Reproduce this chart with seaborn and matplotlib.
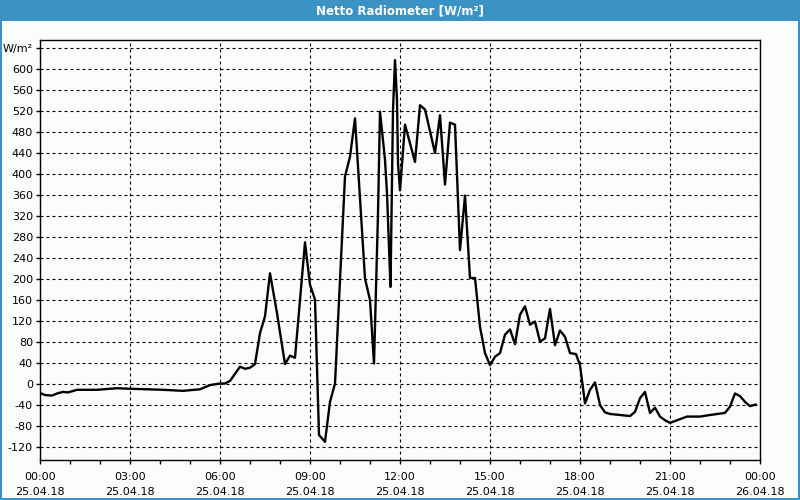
import matplotlib
matplotlib.use("Agg")
import matplotlib.pyplot as plt
from matplotlib.patches import Rectangle
from matplotlib.ticker import MultipleLocator
import seaborn as sns
import pandas as pd

# ---- data ----
minutes = [0, 10, 24, 34, 46, 56, 74, 114, 154, 180, 214, 246, 286, 320, 340, 360, 370, 380,
           386, 400, 410, 420, 430, 440, 450, 460, 474, 490, 500, 510, 530, 540, 550, 558,
           570, 580, 590, 610, 620, 630, 650, 660, 668, 676, 680, 690, 694, 698, 701, 706,
           710, 714, 716, 720, 730, 750, 760, 770, 790, 800, 810, 820, 830, 840, 850, 860,
           870, 880, 890, 900, 910, 920, 930, 940, 950, 960, 970, 980, 990, 1000, 1010, 1020,
           1030, 1040, 1050, 1060, 1072, 1080, 1090, 1100, 1110, 1120, 1130, 1140, 1160, 1180,
           1190, 1200, 1210, 1220, 1230, 1240, 1250, 1260, 1274, 1294, 1320, 1340, 1370, 1380,
           1390, 1400, 1410, 1420, 1432]
values = [-18, -22, -23, -19, -16, -17, -12, -12, -9, -10, -11, -12, -14, -11, -3, 0, 0, 5,
          13, 32, 28, 30, 37, 96, 128, 210, 134, 37, 53, 49, 269, 188, 160, -98,
          -111, -35, 0, 394, 432, 505, 200, 159, 38, 324, 518, 426, 362, 260, 184, 521,
          616, 540, 419, 368, 493, 422, 530, 522, 439, 511, 379, 497, 493, 254, 358, 201,
          201, 108, 58, 35, 51, 58, 93, 103, 75, 131, 147, 112, 118, 80, 86, 142,
          73, 101, 89, 58, 56, 35, -38, -12, 2, -41, -55, -58, -60, -62,
          -54, -28, -16, -56, -46, -63, -70, -75, -70, -63, -63, -60, -56, -44,
          -19, -24, -35, -43, -40]

x_tick_pos = [0, 180, 360, 540, 720, 900, 1080, 1260, 1440]
x_tick_labels = ["00:00\n25.04.18", "03:00\n25.04.18", "06:00\n25.04.18", "09:00\n25.04.18",
                 "12:00\n25.04.18", "15:00\n25.04.18", "18:00\n25.04.18", "21:00\n25.04.18",
                 "00:00\n26.04.18"]
y_tick_pos = list(range(-120, 641, 40))
y_tick_labels = [str(v) for v in y_tick_pos[:-1]] + ["W/m²"]
title = "Netto Radiometer [W/m²]"

df = pd.DataFrame({"minute": minutes, "value": values})

sns.set_style("white")
plt.rcParams["font.family"] = ["DejaVu Sans"]

blue = "#3b93c5"
fig = plt.figure(figsize=(8, 5), dpi=100, facecolor=blue)
bg = Rectangle((2 / 800, 2 / 500), 796 / 800, 477 / 500,
               transform=fig.transFigure, facecolor="#fbfdfb",
               edgecolor="none", zorder=-10)
fig.add_artist(bg)
fig.text(0.5, 1 - 10.5 / 500, title, ha="center", va="center", color="white",
         fontsize=8.5, fontweight="bold")

ax = fig.add_axes([40 / 800, 40 / 500, 720 / 800, 420 / 500])
ax.set_zorder(5)
ax.set_facecolor("#fbfdfb")
sns.lineplot(data=df, x="minute", y="value", ax=ax, color="black", linewidth=1.7)

ax.set_xlim(0, 1440)
ax.set_ylim(-145.7, 654.3)
ax.set_xticks(x_tick_pos)
ax.set_xticklabels(x_tick_labels)
ax.xaxis.set_minor_locator(MultipleLocator(60))
ax.set_yticks(y_tick_pos)
ax.set_yticklabels(y_tick_labels)
ax.set_xlabel("")
ax.set_ylabel("")

ax.grid(True, which="major", color="black", linestyle=(0, (2.7, 2.7)), linewidth=0.8)
for sp in ax.spines.values():
    sp.set_visible(True)
    sp.set_color("black")
    sp.set_linewidth(1)
ax.tick_params(axis="both", which="both", direction="out", length=3, width=1,
               color="black", labelsize=8, labelcolor="black", pad=2)
ax.tick_params(axis="x", which="major", pad=6)
ax.tick_params(axis="x", which="minor", length=3)
ax.tick_params(axis="y", left=True, right=False)
ax.tick_params(axis="x", bottom=True, which="both")
for lbl in ax.get_xticklabels():
    lbl.set_linespacing(1.6)

fig.savefig("out.png", dpi=100, facecolor=blue)
